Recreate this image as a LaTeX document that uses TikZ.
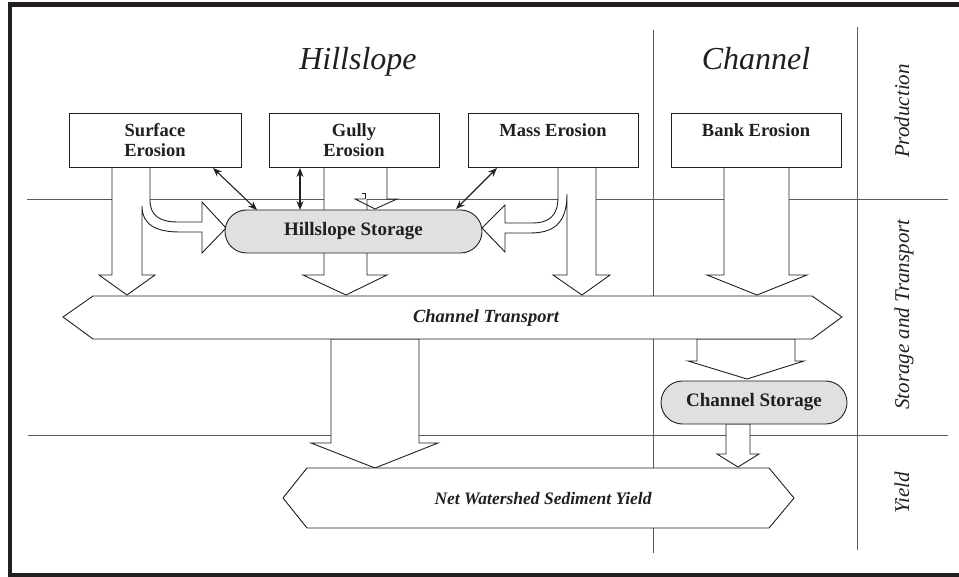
\documentclass[tikz,border=0pt]{standalone}
\usepackage{fontspec}
\setmainfont{Liberation Serif}
\usetikzlibrary{shapes.misc,arrows.meta}
\definecolor{ink}{HTML}{231F20}
\definecolor{rulegray}{HTML}{5A5A5A}
\definecolor{pillgray}{HTML}{E0E0E0}
\tikzset{
  frame/.style={draw=ink,line width=4.5pt},
  sep/.style={draw=rulegray,line width=0.9pt},
  blockarrow/.style={draw=ink,fill=white,line width=0.9pt,line join=miter},
  openedge/.style={draw=ink,line width=0.9pt},
  ebox/.style={draw=ink,fill=white,line width=0.9pt,rectangle,minimum height=54pt,
    inner sep=0pt,align=center,text=ink,font=\fontsize{18.5}{20.5}\selectfont\bfseries},
  pill/.style={draw=ink,fill=pillgray,line width=0.9pt,rounded rectangle,minimum height=43pt,
    inner sep=0pt,text=ink,font=\fontsize{19}{22}\selectfont\bfseries},
  flowlabel/.style={text=ink,font=\fontsize{18.5}{22}\selectfont\bfseries\itshape},
  heading/.style={text=ink,anchor=base,font=\fontsize{32}{38}\selectfont\itshape},
  sidelabel/.style={text=ink,anchor=base,rotate=90,font=\fontsize{21}{24}\selectfont\itshape},
  twoway/.style={draw=ink,line width=1.1pt,{Stealth[length=9pt,width=7pt]}-{Stealth[length=9pt,width=7pt]}}
}
\begin{document}
\begin{tikzpicture}[x=1pt,y=-1pt]
\useasboundingbox (0,0) rectangle (959,577);
\begin{scope}
\clip (0,0) rectangle (959,577);
\draw[frame] (10,4.5) rectangle (964,575.5);
\end{scope}

% zone separators
\draw[sep] (27,199) -- (948,199);
\draw[sep] (28,435) -- (948,435);
\draw[sep] (653,30) -- (653,553);
\draw[sep] (857,27) -- (857,550);

% zone headings
\node[heading] (hhill) at (358,70) {Hillslope};
\node[heading] (hchan) at (756,70) {Channel};
\node[sidelabel] (lprod) at (909,111) {Production};
\node[sidelabel] (lstor) at (909,314.5) {Storage and Transport};
\node[sidelabel] (lyield) at (909,493) {Yield};

% surface erosion: wide arrow down plus curved branch into storage
\filldraw[blockarrow] (112,167) -- (112,275) -- (99,275) -- (127,295) -- (155,275) -- (142,275)
  -- (142,206) .. controls (142,226) and (158,232) .. (180,232) -- (202,232) -- (202,253)
  -- (226,228) -- (202,202) -- (202,222) -- (178,222) .. controls (160,222) and (150,216) .. (150,200)
  -- (150,167) -- cycle;

% mass erosion: curved branch into storage plus wide arrow down
\filldraw[blockarrow] (558,167) -- (558,197) .. controls (558,216) and (549,223) .. (532,223)
  -- (505,223) -- (505,205) -- (482,228) -- (505,252) -- (505,233) -- (530,233)
  .. controls (553,233) and (567,224) .. (567,194) -- (567,275) -- (553,275) -- (582,295)
  -- (610,275) -- (596,275) -- (596,167) -- cycle;

% gully erosion: wide arrow down, passing behind the storage
\filldraw[blockarrow] (324,167) -- (324,275) -- (303,275) -- (346,295) -- (387,275) -- (367,275)
  -- (367,167) -- cycle;
% gully erosion: short branch into storage
\fill[white] (366,168) rectangle (386.5,199);
\draw[openedge] (387,167) -- (387,199) -- (397,199) -- (375,209) -- (355,199) -- (365,199);
\draw[openedge] (362,193) -- (365,193) -- (365,199);

% bank erosion arrow
\filldraw[blockarrow] (724,167) -- (724,275) -- (707,275) -- (757,295) -- (807,275) -- (789,275)
  -- (789,167) -- cycle;

% transport to yield and to channel storage
\filldraw[blockarrow] (331,339) -- (331,443) -- (311,443) -- (375,468) -- (438,443) -- (419,443)
  -- (419,339) -- cycle;
\filldraw[blockarrow] (697,339) -- (697,361) -- (688,361) -- (747,379) -- (804,361) -- (795,361)
  -- (795,339) -- cycle;
\filldraw[blockarrow] (726,424) -- (726,454) -- (717,454) -- (738,467) -- (759,454) -- (750,454)
  -- (750,424) -- cycle;

% channel transport band
\filldraw[blockarrow] (63,317) -- (93,296) -- (812,296) -- (842,317) -- (812,339) -- (93,339) -- cycle;
\node[flowlabel] (trans) at (486,318) {Channel Transport};

% net yield band
\filldraw[blockarrow] (283,498) -- (307,468) -- (769,468) -- (794,498) -- (769,528) -- (307,528) -- cycle;
\node[flowlabel,font=\fontsize{17.5}{21}\selectfont\bfseries\itshape] (yield) at (543,499) {Net Watershed Sediment Yield};

% production boxes
\node[ebox,minimum width=172pt] (sfc) at (155,140) {Surface\\Erosion};
\node[ebox,minimum width=170pt] (gul) at (354,140) {Gully\\Erosion};
\node[ebox,minimum width=170pt] (mas) at (553,140) {Mass Erosion\\\phantom{Erosion}};
\node[ebox,minimum width=170pt] (bnk) at (756,140) {Bank Erosion\\\phantom{Erosion}};

% storages
\node[pill,minimum width=257pt] (hst) at (353.5,231.5) {Hillslope Storage};
\node[pill,minimum width=186pt] (cst) at (754,402.5) {Channel Storage};

% exchanges between erosion sources and hillslope storage
\coordinate (s1) at (213,168);
\coordinate (h1) at (257,210);
\coordinate (g1) at (300,168);
\coordinate (h2) at (300,210);
\coordinate (m1) at (497,168);
\coordinate (h3) at (456,209);
\draw[twoway] (s1) -- (h1);
\draw[twoway] (g1) -- (h2);
\draw[twoway] (h3) -- (m1);
\end{tikzpicture}
\end{document}
